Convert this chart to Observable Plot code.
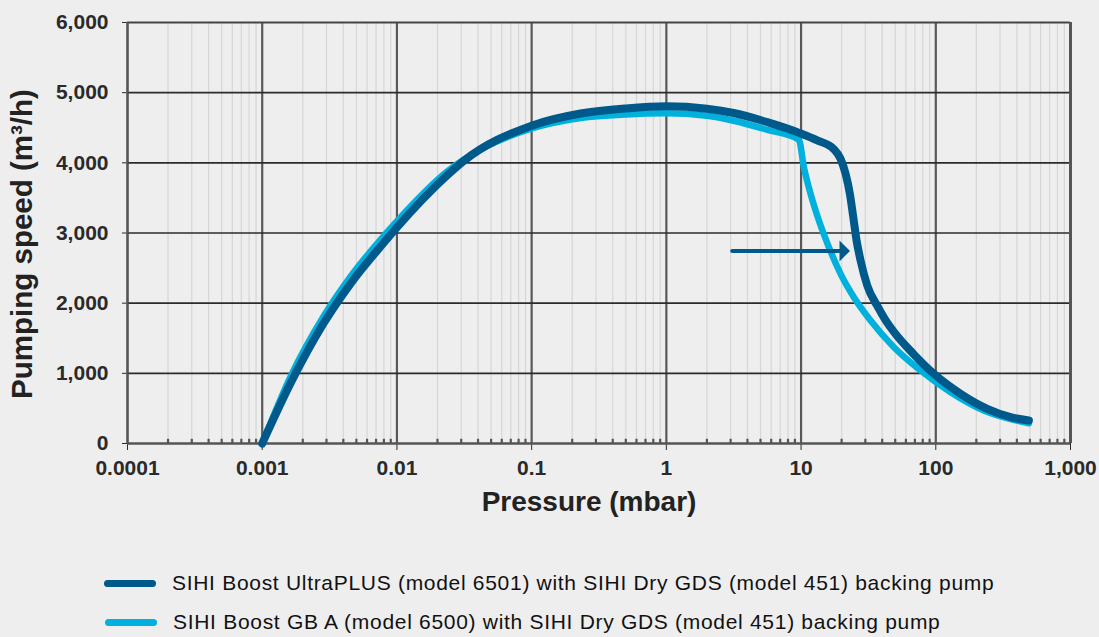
<!DOCTYPE html>
<html>
<head>
<meta charset="utf-8">
<script src="https://cdn.jsdelivr.net/npm/d3@7"></script>
<script src="https://cdn.jsdelivr.net/npm/@observablehq/plot@0.6"></script>
<style>
  html, body { margin: 0; padding: 0; background: #eeeeee; }
  #wrap { position: relative; width: 1099px; height: 637px; overflow: hidden; background: #eeeeee; }
  #chart svg { display: block; }
  .leg { position: absolute; display: flex; align-items: center; font-family: "Liberation Sans", Arial, Helvetica, sans-serif; font-size: 21px; letter-spacing: 0.7px; color: #111; white-space: nowrap; }
  .sw { display: inline-block; width: 52px; height: 7px; border-radius: 4px; margin-right: 16px; }
</style>
</head>
<body>
<div id="wrap">
  <div id="chart"></div>
</div>
<script>
// ---- data ----
const seriesNames = [
  "SIHI Boost UltraPLUS (model 6501) with SIHI Dry GDS (model 451) backing pump",
  "SIHI Boost GB A (model 6500) with SIHI Dry GDS (model 451) backing pump"
];
const seriesColors = ["#00598b", "#00b1dd"];

const ultraPressure = [0.001, 0.00162, 0.00285, 0.00453, 0.0079, 0.01, 0.0237, 0.0312, 0.1, 0.231, 0.5, 1, 2, 3.155, 5.61, 9.9, 13.19, 17.52, 19.65, 21.4, 23.03, 24.41, 25.82, 27.65, 31.01, 36.79, 42, 48.87, 68.78, 96.8, 152.8, 241.2, 359.2, 491];
const ultraSpeed    = [0, 855, 1710, 2280, 2850, 3080, 3825, 4025, 4530, 4703, 4775, 4805, 4770, 4710, 4580, 4420, 4320, 4195, 4057, 3843, 3558, 3225, 2893, 2608, 2250, 1960, 1770, 1590, 1270, 993, 708, 494, 375, 328];

const gbaPressure = [0.001, 0.00162, 0.00285, 0.00453, 0.0079, 0.01, 0.0237, 0.0312, 0.1, 0.231, 0.5, 1, 2, 3.155, 5.61, 9.63, 10.49, 11.77, 13.56, 16.09, 19.65, 24.66, 32.81, 48.87, 77.15, 128.8, 227.6, 491];
const gbaSpeed    = [0, 950, 1810, 2380, 2950, 3170, 3880, 4045, 4490, 4640, 4690, 4705, 4670, 4600, 4470, 4330, 3938, 3558, 3178, 2798, 2418, 2085, 1753, 1373, 1040, 731, 470, 289];

const xTicks = [0.0001, 0.001, 0.01, 0.1, 1, 10, 100, 1000];
const xTickLabels = ["0.0001", "0.001", "0.01", "0.1", "1", "10", "100", "1,000"];
const yTicks = [0, 1000, 2000, 3000, 4000, 5000, 6000];
const yTickLabels = ["0", "1,000", "2,000", "3,000", "4,000", "5,000", "6,000"];
const xTitle = "Pressure (mbar)";
const yTitle = "Pumping speed (m³/h)";

// arrow annotation (shift of the curve), in data units
const arrowFrom = 3.08, arrowTo = 19.3, arrowSpeed = 2745, arrowHeadAt = 21.0;

// ---- derived ----
const minorX = [];
for (let e = -4; e < 3; e++) for (let m = 2; m <= 9; m++) minorX.push(m * Math.pow(10, e));
const ultra = ultraPressure.map((p, i) => ({p, s: ultraSpeed[i]}));
const gba = gbaPressure.map((p, i) => ({p, s: gbaSpeed[i]}));

const headSymbol = {
  draw(ctx) {
    ctx.moveTo(5.5, 0);
    ctx.lineTo(-5, -10.5);
    ctx.lineTo(-5, 10.5);
    ctx.closePath();
  }
};

const chart = Plot.plot({
  width: 1099,
  height: 540,
  marginTop: 22,
  marginLeft: 127,
  marginRight: 29,
  marginBottom: 97,
  style: {
    background: "transparent",
    fontFamily: "'Liberation Sans', Arial, Helvetica, sans-serif",
    fontSize: "21px",
    fontWeight: "bold",
    color: "#2a2a2a",
    overflow: "visible"
  },
  x: {
    type: "log",
    domain: [1e-4, 1e3],
    ticks: xTicks,
    tickFormat: d => xTickLabels[xTicks.indexOf(d)],
    tickSize: 7,
    tickPadding: 10,
    label: null
  },
  y: {
    domain: [0, 6000],
    ticks: yTicks,
    tickFormat: d => yTickLabels[yTicks.indexOf(d)],
    tickSize: 5,
    tickPadding: 14,
    label: null
  },
  marks: [
    Plot.ruleX(minorX, {stroke: "#d6d6d6", strokeWidth: 1.2}),
    Plot.ruleX(xTicks, {stroke: "#585858", strokeWidth: 2.2}),
    Plot.ruleY(yTicks.slice(1, -1), {stroke: "#2b2b2b", strokeWidth: 1.6}),
    Plot.ruleY([6000], {stroke: "#444", strokeWidth: 2}),
    Plot.ruleX([1000], {stroke: "#555", strokeWidth: 3}),
    Plot.ruleX([1e-4], {stroke: "#555", strokeWidth: 2}),
    Plot.ruleY([0], {stroke: "#555", strokeWidth: 2.6}),
    Plot.ruleX(minorX, {y1: 0, y2: 60, stroke: "#555", strokeWidth: 2.2}),
    Plot.line(gba, {x: "p", y: "s", stroke: seriesColors[1], strokeWidth: 6.5, curve: "monotone-x", strokeLinecap: "round", strokeLinejoin: "round"}),
    Plot.line(ultra, {x: "p", y: "s", stroke: seriesColors[0], strokeWidth: 8, curve: "monotone-x", strokeLinecap: "round", strokeLinejoin: "round"}),
    Plot.link([0], {x1: () => arrowFrom, x2: () => arrowTo, y1: () => arrowSpeed, y2: () => arrowSpeed, stroke: seriesColors[0], strokeWidth: 4, strokeLinecap: "round"}),
    Plot.dot([0], {x: () => arrowHeadAt, y: () => arrowSpeed, symbol: headSymbol, fill: seriesColors[0], stroke: "none", r: 6}),
    Plot.text([yTitle], {frameAnchor: "left", rotate: -90, dx: -105, dy: 11, textAnchor: "middle", lineAnchor: "middle", fontSize: 29.5, fontWeight: "bold", fill: "#222"}),
    Plot.text([xTitle], {frameAnchor: "bottom", dy: 59, dx: -10, textAnchor: "middle", lineAnchor: "middle", fontSize: 28, fontWeight: "bold", fill: "#222"})
  ]
});
document.getElementById("chart").appendChild(chart);

// ---- legend (HTML, below the svg) ----
const wrap = document.getElementById("wrap");
const legPos = [{top: 583, left: 104}, {top: 622, left: 105}];
seriesNames.forEach((name, i) => {
  const d = document.createElement("div");
  d.className = "leg";
  d.style.left = legPos[i].left + "px";
  d.style.top = (legPos[i].top - 13) + "px";
  d.style.height = "26px";
  const sw = document.createElement("span");
  sw.className = "sw";
  sw.style.background = seriesColors[i];
  const t = document.createElement("span");
  t.textContent = name;
  d.appendChild(sw);
  d.appendChild(t);
  wrap.appendChild(d);
});
</script>
</body>
</html>
